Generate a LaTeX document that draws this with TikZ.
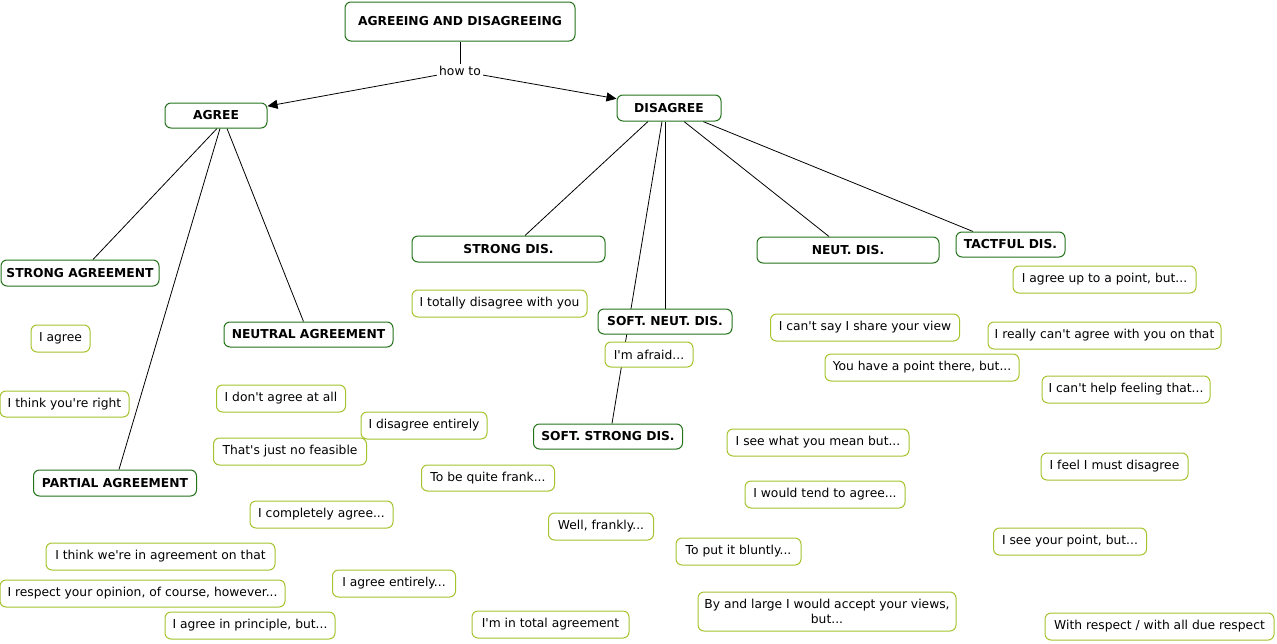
\documentclass[tikz,border=0pt]{standalone}
\usepackage{fontspec}
\setmainfont{DejaVu Sans}[Ligatures=TeXOff]
\usepackage{tikz}
\usetikzlibrary{arrows.meta,backgrounds}
\definecolor{conceptgreen}{RGB}{35,115,25}
\definecolor{phrasegreen}{RGB}{165,195,45}
\newcommand{\mapfont}{\fontsize{12.3}{14.5}\selectfont}
\tikzstyle{concept}=[draw=conceptgreen, line width=1pt, rounded corners=6pt, fill=white, font=\mapfont\bfseries, inner sep=0pt, minimum height=25pt]
\tikzstyle{phrase}=[draw=phrasegreen, line width=1pt, rounded corners=6pt, fill=white, font=\mapfont, inner sep=0pt, minimum height=27pt]
\tikzstyle{link}=[line width=0.8pt]
\begin{document}
\begin{tikzpicture}[x=1pt,y=-1pt]
 \useasboundingbox (0,0) rectangle (1277,643);
%
 \node[concept, minimum width=230pt, minimum height=39pt] (title) at (460,21.5) {AGREEING AND DISAGREEING};
 \node[fill=white, inner sep=2pt, font=\mapfont] (howto) at (460,71) {how to};
 \node[concept, minimum width=102pt] (agree) at (216,115.5) {AGREE};
 \node[concept, minimum width=104pt, minimum height=26pt] (disagree) at (669,108) {DISAGREE};
%
 \node[concept, minimum width=158pt, minimum height=26pt] (stragree) at (80,273) {STRONG AGREEMENT};
 \node[concept, minimum width=169pt] (neutagree) at (308.5,334.5) {NEUTRAL AGREEMENT};
 \node[concept, minimum width=163pt, minimum height=26pt] (partagree) at (115,483) {PARTIAL AGREEMENT};
 \node[concept, minimum width=193pt, minimum height=26pt] (strdis) at (508.5,249) {STRONG DIS.};
 \node[concept, minimum width=182pt, minimum height=26pt] (neutdis) at (848,250) {NEUT. DIS.};
 \node[concept, minimum width=109pt] (tactdis) at (1010.5,244.5) {TACTFUL DIS.};
 \node[concept, minimum width=134pt] (softneut) at (665,321.5) {SOFT. NEUT. DIS.};
 \node[concept, minimum width=149pt] (softstr) at (608,436.5) {SOFT. STRONG DIS.};
%
 \node[phrase, minimum width=175pt] (totally) at (499.5,303.5) {I totally disagree with you};
 \node[phrase, minimum width=88pt, minimum height=25pt] (afraid) at (649,354.5) {I'm afraid...};
 \node[phrase, minimum width=59pt] (iagree) at (60.5,338.5) {I agree};
 \node[phrase, minimum width=129pt, minimum height=26pt] (right) at (64.5,404) {I think you're right};
 \node[phrase, minimum width=129pt] (dontagree) at (281,398.5) {I don't agree at all};
 \node[phrase, minimum width=126pt] (disentirely) at (424,425.5) {I disagree entirely};
 \node[phrase, minimum width=153pt] (feasible) at (290,451.5) {That's just no feasible};
 \node[phrase, minimum width=133pt, minimum height=26pt] (frank) at (488,478) {To be quite frank...};
 \node[phrase, minimum width=143pt] (completely) at (321.5,514.5) {I completely agree...};
 \node[phrase, minimum width=105pt] (frankly) at (601,526.5) {Well, frankly...};
 \node[phrase, minimum width=229pt] (weagree) at (160.5,556.5) {I think we're in agreement on that};
 \node[phrase, minimum width=285pt] (respect) at (142.5,593.5) {I respect your opinion, of course, however...};
 \node[phrase, minimum width=123pt] (agentirely) at (394,583.5) {I agree entirely...};
 \node[phrase, minimum width=170pt] (principle) at (250,625.5) {I agree in principle, but...};
 \node[phrase, minimum width=157pt] (total) at (550.5,624.5) {I'm in total agreement};
 \node[phrase, minimum width=182pt] (seemean) at (818,442.5) {I see what you mean but...};
 \node[phrase, minimum width=160pt] (tend) at (825,494.5) {I would tend to agree...};
 \node[phrase, minimum width=125pt] (bluntly) at (738.5,551.5) {To put it bluntly...};
 \node[phrase, minimum width=258pt, minimum height=39pt, align=center] (bylarge) at (827,611.5) {By and large I would accept your views,\\but...};
 \node[phrase, minimum width=183pt] (uptopoint) at (1104.5,279.5) {I agree up to a point, but...};
 \node[phrase, minimum width=189pt] (shareview) at (865,327.5) {I can't say I share your view};
 \node[phrase, minimum width=233pt] (reallycant) at (1104.5,335.5) {I really can't agree with you on that};
 \node[phrase, minimum width=194pt] (pointthere) at (922,367.5) {You have a point there, but...};
 \node[phrase, minimum width=168pt] (helpfeel) at (1126,389.5) {I can't help feeling that...};
 \node[phrase, minimum width=147pt] (mustdis) at (1114.5,466.5) {I feel I must disagree};
 \node[phrase, minimum width=153pt] (seepoint) at (1070,541.5) {I see your point, but...};
 \node[phrase, minimum width=229pt] (withrespect) at (1159.5,626.5) {With respect / with all due respect};
%
 \begin{scope}[on background layer]
  \draw[link] (title) -- (howto);
  \draw[link, -{Triangle[length=10pt,width=9pt]}] (howto) -- (agree);
  \draw[link, -{Triangle[length=10pt,width=9pt]}] (howto) -- (disagree);
  \draw[link] ([xshift=1pt]agree.south) -- ([xshift=13pt]stragree.north);
  \draw[link] ([xshift=4pt]agree.south) -- ([xshift=4pt]partagree.north);
  \draw[link] ([xshift=11pt]agree.south) -- ([xshift=-5pt]neutagree.north);
  \draw[link] ([xshift=-21pt]disagree.south) -- ([xshift=16.5pt]strdis.north);
  \draw[link] ([xshift=-7pt]disagree.south) -- ([xshift=4pt]softstr.north);
  \draw[link] ([xshift=-4pt]disagree.south) -- (softneut.north);
  \draw[link] ([xshift=15pt]disagree.south) -- ([xshift=-19pt]neutdis.north);
  \draw[link] ([xshift=34pt]disagree.south) -- ([xshift=-37.5pt]tactdis.north);
 \end{scope}
\end{tikzpicture}
\end{document}
